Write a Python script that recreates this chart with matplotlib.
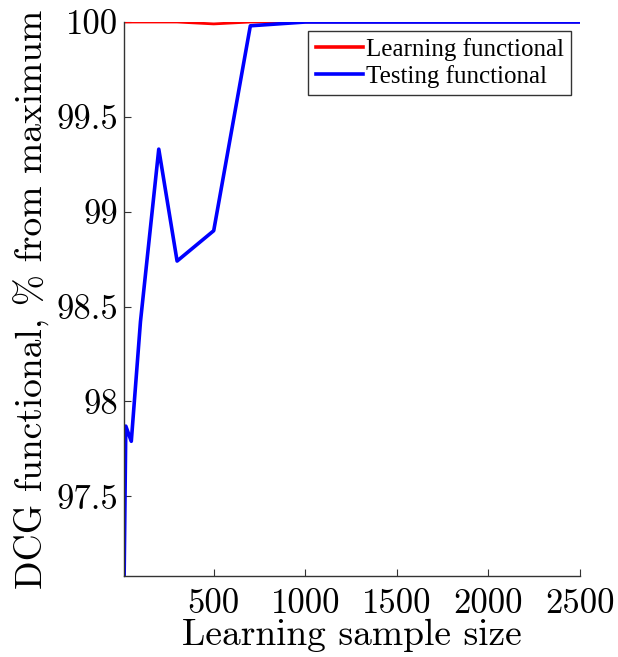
import numpy as np
import matplotlib.pyplot as plt

plt.rcParams['font.family'] = ['cmr10', 'DejaVu Serif']
plt.rcParams['axes.formatter.use_mathtext'] = True

# Данные
sample_size = [10, 20, 50, 100, 200, 300, 500, 700, 1000, 1500, 2000, 2500]
learning = [100.0, 100.0, 100.0, 100.0, 100.0, 100.0, 99.99, 100.0, 100.0, 100.0, 100.0, 100.0]
testing = [97.0, 97.87, 97.79, 98.42, 99.33, 98.74, 98.9, 99.98, 100.0, 100.0, 100.0, 100.0]

fig = plt.figure(figsize=(6.18, 6.57), dpi=100)
ax = fig.add_axes([0.2006, 0.1233, 0.7379, 0.8432])

ax.plot(sample_size, learning, color='#ff0000', lw=2.0, label='Learning functional')
ax.plot(sample_size, testing, color='#0000ff', lw=2.6, label='Testing functional')

ax.set_xlim(10, 2500)
ax.set_ylim(97.08, 100)
ax.set_xticks([500, 1000, 1500, 2000, 2500])
ax.set_xticklabels(['500', '1000', '1500', '2000', '2500'])
ax.set_yticks([97.5, 98, 98.5, 99, 99.5, 100])
ax.set_yticklabels(['97.5', '98', '98.5', '99', '99.5', '100'])

for s in ['top', 'right']:
    ax.spines[s].set_visible(False)
for s in ['left', 'bottom']:
    ax.spines[s].set_color('#333333')
    ax.spines[s].set_linewidth(1.0)
ax.tick_params(direction='in', length=5, labelsize=25, colors='#333333',
               labelcolor='black')
ax.tick_params(axis='x', pad=9)
ax.tick_params(axis='y', pad=4)

ax.set_xlabel('Learning sample size', fontsize=27, labelpad=-1)
ax.set_ylabel('DCG functional, % from maximum', fontsize=27, labelpad=5)

leg = ax.legend(loc='upper right', fontsize=18, frameon=True, fancybox=False,
                edgecolor='black', handlelength=1.9, handletextpad=0.1,
                borderpad=0.3, labelspacing=0.15, borderaxespad=0.35,
                prop={'family': ['Liberation Serif'], 'size': 18})
leg.get_frame().set_linewidth(1.0)
for ln in leg.get_lines():
    ln.set_linewidth(2.6)

fig.savefig('out.png', dpi=100)
